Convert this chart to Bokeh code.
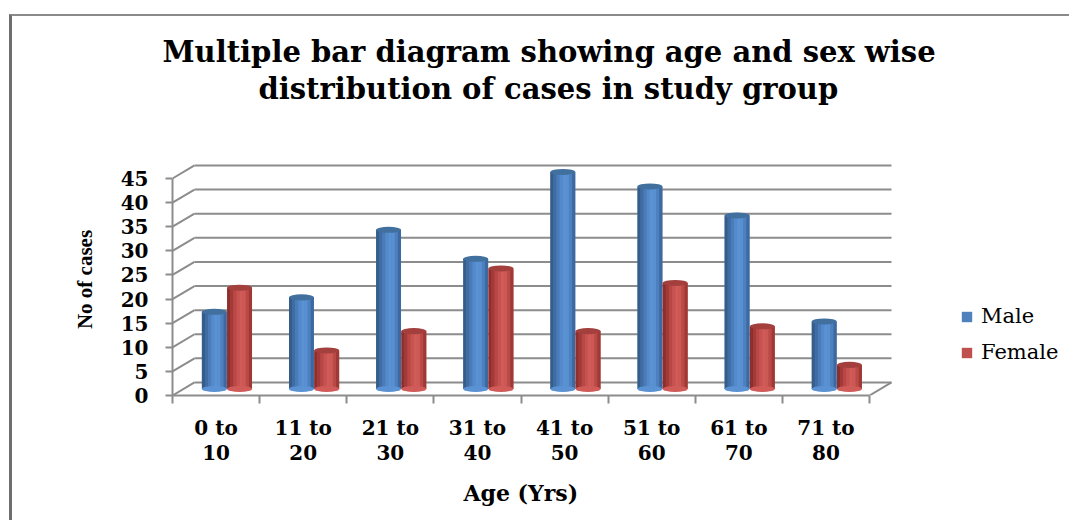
import numpy as np
from bokeh.plotting import figure
from bokeh.models import (Title, Legend, LegendItem, FixedTicker, CustomJSTickFormatter, Range1d)
from bokeh.embed import file_html
from bokeh.resources import INLINE

# ---------------- data ----------------
categories = ["0 to\n10", "11 to\n20", "21 to\n30", "31 to\n40",
              "41 to\n50", "51 to\n60", "61 to\n70", "71 to\n80"]
male = [16, 19, 33, 27, 45, 42, 36, 14]
female = [21, 8, 12, 25, 12, 22, 13, 5]
y_ticks = [0, 5, 10, 15, 20, 25, 30, 35, 40, 45]

# ---------------- geometry (3D look) ----------------
n = len(categories)
PX_PER_CAT = 87.125  # pixels per category slot
FRAME_W = 896        # frame spans the legend area too
DX = 0.2525          # depth offset along x (category units)
DY = 2.70            # depth offset along y (value units)
BASE = DY / 2        # bars stand half-way into the depth
BAR_W = 0.285
CAP_H = 1.25
idx = np.arange(n)
male_x = idx + 0.48
female_x = idx + 0.77
male_arr = np.array(male, dtype=float)
female_arr = np.array(female, dtype=float)

GRID = "#8c8c8c"
FONT = "DejaVu Serif"

p = figure(width=1060, height=506, x_range=Range1d(0, FRAME_W / PX_PER_CAT), y_range=Range1d(0, 48.11),
           output_backend="svg", toolbar_location=None,
           min_border_left=160, min_border_right=4, min_border_top=147, min_border_bottom=127,
           styles={"margin-left": "9px", "margin-top": "14px",
                   "border-left": "3px solid #6e6e6e", "border-top": "2px solid #8a8a8a"})
p.xgrid.visible = False
p.ygrid.visible = False
p.outline_line_color = None
p.background_fill_color = "white"
p.border_fill_color = "white"

# titles: spacer first (closest to the plot), then line 2, then line 1
p.add_layout(Title(text=" ", text_font=FONT, text_font_size="29px", standoff=21), "above")
p.add_layout(Title(text="distribution of cases in study group", align="left",
                   text_font=FONT, text_font_size="29px", text_font_style="bold",
                   text_color="black", offset=86, standoff=2), "above")
p.add_layout(Title(text="Multiple bar diagram showing age and sex wise", align="left",
                   text_font=FONT, text_font_size="29px", text_font_style="bold",
                   text_color="black", offset=-10, standoff=0), "above")

# back wall gridlines + side-wall diagonals + floor right edge
yt = np.array(y_ticks, dtype=float)
p.segment(x0=np.full(len(yt), DX), y0=yt + DY, x1=np.full(len(yt), n + DX), y1=yt + DY,
          line_color=GRID, line_width=2)
p.segment(x0=np.zeros(len(yt)), y0=yt, x1=np.full(len(yt), DX), y1=yt + DY,
          line_color=GRID, line_width=2)
p.segment(x0=[n], y0=[0], x1=[n + DX], y1=[DY], line_color=GRID, line_width=2)


def cylinders(xs, vals, base_col, strips, cap_col):
    main = p.vbar(x=xs, bottom=BASE, top=BASE + vals, width=BAR_W,
                  fill_color=base_col, line_color=None)
    k = len(strips)
    sw = BAR_W / k
    for j, c in enumerate(strips):
        p.vbar(x=xs - BAR_W / 2 + sw * (j + 0.5), bottom=BASE, top=BASE + vals,
               width=sw * 1.02, fill_color=c, line_color=None)
    p.ellipse(x=xs, y=np.full(len(xs), BASE), width=BAR_W, height=CAP_H,
              fill_color=strips[k // 2], line_color=None)
    p.ellipse(x=xs, y=BASE + vals, width=BAR_W, height=CAP_H,
              fill_color=cap_col, line_color=None)
    return main


blue_strips = ["#365c8a", "#3f6ca2", "#4a7cb9", "#548acb", "#5a92d4", "#5890d2", "#4d80bf", "#3e69a0"]
red_strips = ["#8c2f2d", "#a33a38", "#b84846", "#c75350", "#d05b58", "#cd5956", "#bb4a47", "#9e3936"]
cylinders(male_x, male_arr, "#4f81bd", blue_strips, "#41709f")
cylinders(female_x, female_arr, "#c0504d", red_strips, "#a3403d")

# legend proxies (outside visible range)
lm = p.vbar(x=[-5], bottom=0, top=1, width=0.1, fill_color="#4f81bd", line_color=None)
lf = p.vbar(x=[-5], bottom=0, top=1, width=0.1, fill_color="#c0504d", line_color=None)
legend = Legend(items=[LegendItem(label="Male", renderers=[lm]),
                       LegendItem(label="Female", renderers=[lf])],
                location=(788, 31), orientation="vertical",
                glyph_width=13, glyph_height=13, label_height=24, spacing=12,
                label_standoff=8, padding=0, margin=0,
                label_text_font=FONT, label_text_font_size="21px", label_text_color="black",
                border_line_alpha=0, background_fill_alpha=0)
p.add_layout(legend, "center")

# y axis (front)
ya = p.yaxis[0]
ya.ticker = FixedTicker(ticks=y_ticks)
ya.bounds = (0, 45)
ya.axis_line_color = GRID
ya.axis_line_width = 2
ya.major_tick_line_color = GRID
ya.major_tick_line_width = 2
ya.major_tick_out = 7
ya.major_tick_in = 0
ya.minor_tick_line_color = None
ya.major_label_standoff = 17
ya.major_label_text_font = FONT
ya.major_label_text_font_style = "bold"
ya.major_label_text_font_size = "20px"
ya.major_label_text_color = "black"
ya.axis_label = "No of cases"
ya.axis_label_text_font = "Liberation Serif"
ya.axis_label_text_font_style = "bold"
ya.axis_label_text_font_size = "21px"
ya.axis_label_text_color = "black"
ya.axis_label_standoff = 21

# x axis (front floor edge)
xa = p.xaxis[0]
xa.bounds = (0, n)
xa.ticker = FixedTicker(ticks=list(idx + 0.5), minor_ticks=list(range(n + 1)))
xa.formatter = CustomJSTickFormatter(args=dict(labels=categories),
                                     code="return labels[Math.floor(tick)];")
xa.axis_line_color = GRID
xa.axis_line_width = 2
xa.major_tick_line_color = None
xa.major_tick_out = 0
xa.major_tick_in = 0
xa.minor_tick_line_color = GRID
xa.minor_tick_line_width = 2
xa.minor_tick_out = 8
xa.minor_tick_in = 0
xa.major_label_standoff = 12
xa.major_label_text_font = FONT
xa.major_label_text_font_style = "bold"
xa.major_label_text_font_size = "20px"
xa.major_label_text_line_height = 1.05
xa.major_label_text_color = "black"

# x axis title, centred under the category span (not under the whole frame)
p.add_layout(Title(text="Age (Yrs)", align="left", vertical_align="bottom",
                   text_font=FONT, text_font_size="22px", text_font_style="bold",
                   text_color="black", offset=291, standoff=20), "below")

open("out.html", "w").write(file_html(p, INLINE))
